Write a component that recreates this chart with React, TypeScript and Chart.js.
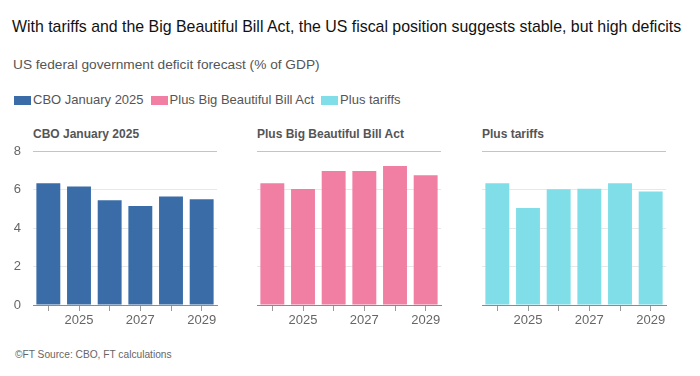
import React, { useEffect, useRef } from "react";
import { Chart, registerables } from "chart.js";

Chart.register(...registerables);

const years = ["2024", "2025", "2026", "2027", "2028", "2029"];
const shownYearLabels = ["2025", "2027", "2029"];
const cboJan2025 = [6.32, 6.15, 5.44, 5.14, 5.63, 5.5];
const plusBBBA = [6.32, 6.03, 6.96, 6.96, 7.22, 6.74];
const plusTariffs = [6.32, 5.04, 6.01, 6.04, 6.32, 5.89];
const yTicks = [0, 2, 4, 6, 8];

const seriesNames = ["CBO January 2025", "Plus Big Beautiful Bill Act", "Plus tariffs"];
const seriesColors = ["#3a6da8", "#f07fa3", "#80dee9"];

const FONT = "'Liberation Sans', Arial, sans-serif";

function Panel(props: { values: number[]; color: string; showY: boolean; left: number }) {
  const ref = useRef<HTMLCanvasElement | null>(null);
  useEffect(() => {
    if (!ref.current) return;
    const chart = new Chart(ref.current, {
      type: "bar",
      data: {
        labels: years,
        datasets: [
          {
            data: props.values,
            backgroundColor: props.color,
            categoryPercentage: 1,
            barPercentage: 0.78,
          },
        ],
      },
      options: {
        animation: false,
        responsive: false,
        maintainAspectRatio: false,
        layout: { padding: { top: 11, right: 13, left: 0, bottom: 0 } },
        plugins: { legend: { display: false }, tooltip: { enabled: false } },
        scales: {
          x: {
            offset: true,
            grid: {
              display: true,
              offset: false,
              drawOnChartArea: false,
              drawTicks: true,
              tickLength: 6,
              color: "#9a9a9a",
            },
            border: { display: true, color: "#8a8a8a", width: 1 },
            ticks: {
              autoSkip: false,
              maxRotation: 0,
              padding: 2,
              color: "#666",
              font: { family: FONT, size: 13 },
              callback: (v: any, i: number) => (shownYearLabels.includes(years[i]) ? years[i] : ""),
            },
            afterFit: (s: any) => {
              s.height = 35;
              s.paddingLeft = 0;
              s.paddingRight = 0;
            },
          },
          y: {
            min: 0,
            max: 8,
            afterBuildTicks: (s: any) => {
              s.ticks = yTicks.map((v) => ({ value: v }));
            },
            grid: {
              drawTicks: false,
              color: (c: any) =>
                c.tick && c.tick.value === 8 ? "#c4c4c4" : c.tick && c.tick.value === 0 ? "rgba(0,0,0,0)" : "#e8e8e8",
            },
            border: { display: false },
            ticks: {
              display: props.showY,
              padding: 12,
              color: "#666",
              font: { family: FONT, size: 13 },
            },
            afterFit: (s: any) => {
              s.width = 33;
              s.paddingTop = 0;
              s.paddingBottom = 0;
            },
          },
        },
      },
    });
    return () => chart.destroy();
  }, []);
  return (
    <canvas
      ref={ref}
      width={230}
      height={200}
      style={{ position: "absolute", left: props.left, top: 140, width: 230, height: 200 }}
    />
  );
}

export default function App() {
  const panels = [
    { title: seriesNames[0], values: cboJan2025, color: seriesColors[0], left: 0, showY: true },
    { title: seriesNames[1], values: plusBBBA, color: seriesColors[1], left: 224, showY: false },
    { title: seriesNames[2], values: plusTariffs, color: seriesColors[2], left: 449, showY: false },
  ];
  return (
    <div
      style={{
        position: "absolute",
        left: 0,
        top: 0,
        width: 700,
        height: 376,
        background: "#fff",
        fontFamily: FONT,
        overflow: "hidden",
      }}
    >
      <div style={{ position: "absolute", left: 12, top: 18, fontSize: 15.9, lineHeight: "18px", color: "#111", whiteSpace: "nowrap" }}>
        With tariffs and the Big Beautiful Bill Act, the US fiscal position suggests stable, but high deficits
      </div>
      <div style={{ position: "absolute", left: 13, top: 57, fontSize: 13.7, lineHeight: "16px", color: "#555", whiteSpace: "nowrap" }}>
        US federal government deficit forecast (% of GDP)
      </div>
      <div
        style={{
          position: "absolute",
          left: 14,
          top: 92,
          display: "flex",
          alignItems: "center",
          fontSize: 13,
          lineHeight: "16px",
          color: "#555",
          whiteSpace: "nowrap",
        }}
      >
        {seriesNames.map((n, i) => (
          <div key={n} style={{ display: "flex", alignItems: "center", marginRight: 7 }}>
            <span style={{ display: "inline-block", width: 17, height: 9, background: seriesColors[i], marginRight: 2 }} />
            <span>{n}</span>
          </div>
        ))}
      </div>
      {panels.map((p) => (
        <div
          key={p.title}
          style={{
            position: "absolute",
            left: p.left + 33,
            top: 127,
            fontSize: 12,
            lineHeight: "14px",
            fontWeight: 600,
            color: "#555",
            whiteSpace: "nowrap",
          }}
        >
          {p.title}
        </div>
      ))}
      {panels.map((p) => (
        <Panel key={p.title + "c"} values={p.values} color={p.color} showY={p.showY} left={p.left} />
      ))}
      <div style={{ position: "absolute", left: 15, top: 349, fontSize: 10.2, lineHeight: "12px", color: "#666", whiteSpace: "nowrap" }}>
        ©FT Source: CBO, FT calculations
      </div>
    </div>
  );
}
